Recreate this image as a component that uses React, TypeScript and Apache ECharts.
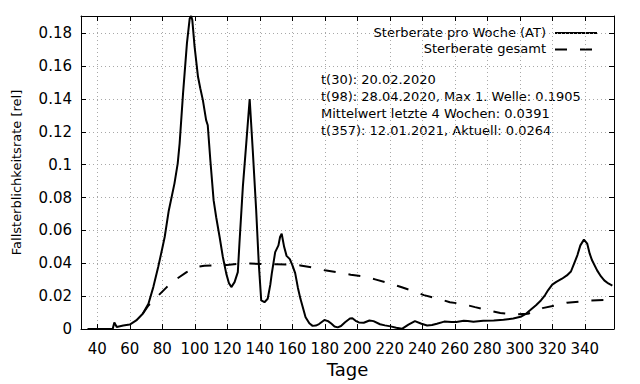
import React, { useEffect, useRef } from "react";
import * as echarts from "echarts";

// Sterberate pro Woche (AT)
const weeklyDays = [
  34, 49.5, 50.5, 52, 56, 60, 64, 68, 71.5, 74.5, 77.5, 80, 81.5, 84, 87.5, 89.5, 90.7, 92.8, 95.2,
  96.9, 97.8, 98.5, 99.9, 102, 103.4, 105, 107, 108, 109.6, 111.6, 113.2, 115.3, 117.3, 119.4, 121,
  122.5, 124.5, 126.5, 127.5, 129.6, 131.7, 133.8, 135.7, 137.8, 139.4, 140.9, 142.9, 144.9, 146.5,
  147.4, 149.5, 151.5, 152.5, 153.5, 155, 156.5, 158.5, 160, 161.8, 163.5, 165, 168.2, 170.5, 172.5,
  174.5, 176.5, 179.8, 182, 184, 186, 188, 190, 192.5, 195.5, 197, 199, 201, 204, 207.5, 210, 214,
  217, 220.5, 224, 227.5, 231.5, 235.5, 239.5, 243, 246, 249, 253.5, 258, 261, 265.5, 268, 271.5,
  277.5, 284, 290, 296, 300.5, 303.5, 306.5, 310, 313, 315.5, 317.5, 320, 322.5, 326, 329, 331.5,
  333.5, 335.5, 337.3, 339.5, 341.5, 343, 344.5, 347.6, 350, 352, 354.5, 357,
];
const weeklyRate = [
  0, 0, 0.004, 0.0012, 0.0021, 0.0027, 0.0052, 0.0093, 0.0154, 0.0255, 0.0377, 0.049, 0.056, 0.072,
  0.0885, 0.1007, 0.113, 0.1434, 0.174, 0.189, 0.1905, 0.188, 0.1718, 0.1535, 0.1465, 0.1393, 0.1271,
  0.124, 0.1027, 0.0784, 0.068, 0.056, 0.0438, 0.0337, 0.028, 0.0255, 0.0285, 0.0346, 0.052, 0.0865,
  0.113, 0.14, 0.1088, 0.0723, 0.0398, 0.0174, 0.0163, 0.0184, 0.027, 0.0337, 0.0468, 0.0509, 0.056,
  0.058, 0.05, 0.0445, 0.0425, 0.039, 0.034, 0.025, 0.0185, 0.0072, 0.0035, 0.0019, 0.0021, 0.003,
  0.0055, 0.0048, 0.0033, 0.0015, 0.001, 0.0018, 0.0041, 0.0064, 0.0066, 0.005, 0.004, 0.0038, 0.0052,
  0.0048, 0.0029, 0.0022, 0.0016, 0.0008, 0.0001, 0.0027, 0.0048, 0.0032, 0.0021, 0.0024, 0.0032,
  0.0045, 0.0042, 0.0043, 0.005, 0.0048, 0.0044, 0.005, 0.0052, 0.0056, 0.0064, 0.0074, 0.009, 0.0115,
  0.0145, 0.0174, 0.0205, 0.0237, 0.027, 0.0287, 0.0306, 0.0326, 0.035, 0.04, 0.045, 0.0509, 0.0544,
  0.052, 0.046, 0.0418, 0.0357, 0.032, 0.0296, 0.0277, 0.0264,
];

// Sterberate gesamt
const totalDays = [
  68, 71.5, 76.6, 82.8, 89, 95, 101, 106, 112, 118, 126, 134, 142, 150, 158, 165, 173, 180, 188, 196,
  205, 211, 220, 226.5, 235, 241, 250, 257, 265, 272.5, 281, 288, 297, 305, 310, 314, 322, 329, 338,
  344, 357,
];
const totalRate = [
  0.0093, 0.0143, 0.0194, 0.0255, 0.0306, 0.0346, 0.0377, 0.0385, 0.0387, 0.0388, 0.0396, 0.0398,
  0.0395, 0.0394, 0.0393, 0.0387, 0.0373, 0.0357, 0.0345, 0.033, 0.0318, 0.0302, 0.0278, 0.0257,
  0.0229, 0.0206, 0.0184, 0.0163, 0.0152, 0.0133, 0.0113, 0.0097, 0.0088, 0.0093, 0.011, 0.0127,
  0.0143, 0.016, 0.0168, 0.0174, 0.0178,
];

const X_MIN = 30;
const X_MAX = 358;
const X_TICK_START = 40;
const X_TICK_STEP = 20;
const Y_MIN = 0;
const Y_MAX = 0.1905;
const Y_STEP = 0.02;
const seriesNames = ["Sterberate pro Woche (AT)", "Sterberate gesamt"];
const notes = [
  "t(30): 20.02.2020",
  "t(98): 28.04.2020, Max 1. Welle: 0.1905",
  "Mittelwert letzte 4 Wochen: 0.0391",
  "t(357): 12.01.2021, Aktuell: 0.0264",
];

const FONT = "DejaVu Sans";
const DASH = [12, 13];
const GRID_COLOR = "#a8a8a8";

export default function App() {
  const ref = useRef<HTMLDivElement>(null);
  useEffect(() => {
    if (!ref.current) return;
    const chart = echarts.init(ref.current, undefined, { renderer: "svg" });

    // one category per day so the tick/grid axis shares the value axis' scale
    const dayCats: string[] = [];
    for (let d = X_MIN; d <= X_MAX; d++) dayCats.push(String(d));
    const onTick = (index: number) => {
      const d = X_MIN + index;
      return d >= X_TICK_START && (d - X_TICK_START) % X_TICK_STEP === 0;
    };

    const gridLine = { show: true, lineStyle: { color: GRID_COLOR, width: 1, type: [1, 3] } };
    const axisLine = { show: true, onZero: false, lineStyle: { color: "#000", width: 1 } };
    const yBase = { type: "value", min: Y_MIN, max: Y_MAX, interval: Y_STEP };

    const noteEls = notes.map((t, i) => ({
      type: "text",
      left: 321,
      top: 80 + i * 17 - 7,
      style: { text: t, fill: "#000", font: `13px '${FONT}'` },
    }));

    chart.setOption({
      animation: false,
      textStyle: { fontFamily: FONT },
      grid: { left: 81, right: 26, top: 16, bottom: 55 },
      xAxis: [
        {
          type: "category",
          data: dayCats,
          boundaryGap: false,
          position: "bottom",
          name: "Tage",
          nameLocation: "middle",
          nameGap: 31,
          nameTextStyle: { fontSize: 18, color: "#000", fontFamily: FONT },
          axisLine,
          axisTick: { show: true, inside: true, length: 5, interval: onTick, lineStyle: { color: "#000" } },
          axisLabel: { show: true, interval: onTick, margin: 12, fontSize: 15, color: "#000", fontFamily: FONT },
          splitLine: { ...gridLine, interval: onTick },
        },
        {
          type: "category",
          data: dayCats,
          boundaryGap: false,
          position: "top",
          axisLine,
          axisTick: { show: true, inside: true, length: 5, interval: onTick, lineStyle: { color: "#000" } },
          axisLabel: { show: false },
          splitLine: { show: false },
        },
        {
          type: "value",
          min: X_MIN,
          max: X_MAX,
          show: false,
        },
      ],
      yAxis: [
        {
          ...yBase,
          position: "left",
          name: "Fallsterblichkeitsrate [rel]",
          nameLocation: "middle",
          nameGap: 58,
          nameTextStyle: { fontSize: 13, color: "#000", fontFamily: FONT },
          axisLine,
          axisTick: { show: true, inside: true, length: 5, lineStyle: { color: "#000" } },
          axisLabel: { show: true, showMaxLabel: false, margin: 9, fontSize: 15, color: "#000", fontFamily: FONT },
          splitLine: gridLine,
        },
        {
          ...yBase,
          position: "right",
          axisLine,
          axisTick: { show: true, inside: true, length: 5, lineStyle: { color: "#000" } },
          axisLabel: { show: false },
          splitLine: { show: false },
        },
      ],
      series: [
        {
          name: seriesNames[0],
          type: "line",
          xAxisIndex: 2,
          yAxisIndex: 0,
          showSymbol: false,
          data: weeklyDays.map((d, i) => [d, weeklyRate[i]]),
          lineStyle: { color: "#000", width: 2 },
          itemStyle: { color: "#000" },
        },
        {
          name: seriesNames[1],
          type: "line",
          xAxisIndex: 2,
          yAxisIndex: 0,
          showSymbol: false,
          data: totalDays.map((d, i) => [d, totalRate[i]]),
          lineStyle: { color: "#000", width: 2, type: DASH },
          itemStyle: { color: "#000" },
        },
      ],
      graphic: [
        {
          type: "text",
          right: 640 - 546,
          top: 33.5 - 8,
          style: { text: seriesNames[0], fill: "#000", font: `13px '${FONT}'`, align: "right" },
        },
        {
          type: "text",
          right: 640 - 546,
          top: 50 - 8,
          style: { text: seriesNames[1], fill: "#000", font: `13px '${FONT}'`, align: "right" },
        },
        {
          type: "line",
          shape: { x1: 555, y1: 33, x2: 597, y2: 33 },
          style: { stroke: "#000", lineWidth: 2 },
        },
        {
          type: "line",
          shape: { x1: 555, y1: 49.5, x2: 597, y2: 49.5 },
          style: { stroke: "#000", lineWidth: 2, lineDash: DASH },
        },
        ...noteEls,
      ],
    });
    return () => chart.dispose();
  }, []);
  return (
    <div ref={ref} style={{ position: "absolute", left: 0, top: 0, width: 640, height: 384 }} />
  );
}
